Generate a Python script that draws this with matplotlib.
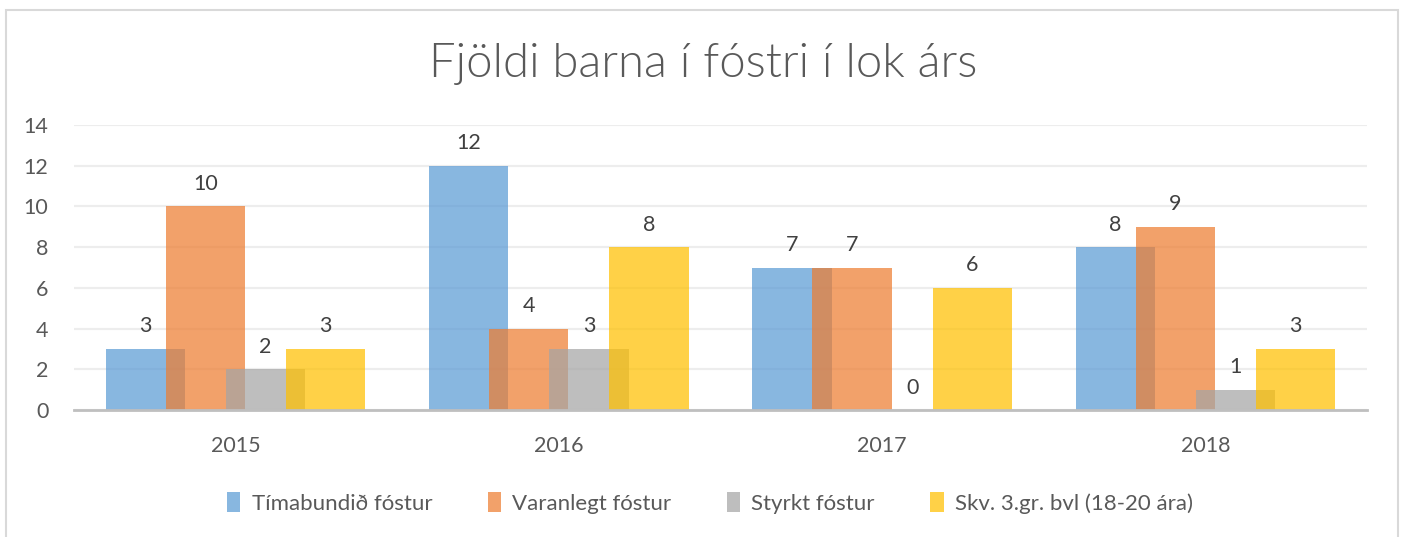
import numpy as np
import matplotlib.pyplot as plt
from matplotlib.patches import Rectangle

years = ["2015", "2016", "2017", "2018"]
series_names = ["Tímabundið fóstur", "Varanlegt fóstur", "Styrkt fóstur",
                "Skv. 3.gr. bvl (18-20 ára)"]
timabundid = [3, 12, 7, 8]
varanlegt = [10, 4, 7, 9]
styrkt = [2, 3, 0, 1]
skv = [3, 8, 6, 3]
series_values = [timabundid, varanlegt, styrkt, skv]
colors = ["#5B9BD5", "#ED7D31", "#A5A5A5", "#FFC000"]

plt.rcParams["font.family"] = ["Lato", "DejaVu Sans"]
text_color = "#595959"

fig = plt.figure(figsize=(14.03, 5.37), dpi=100)
ax = fig.add_axes([74 / 1403, 1 - 410 / 537, (1367 - 74) / 1403, 285 / 537])

x = np.arange(len(years))
width = 0.245
step = 0.186
for i, (name, vals, c) in enumerate(zip(series_names, series_values, colors)):
    pos = x + (i - 1.5) * step
    bars = ax.bar(pos, vals, width=width, color=c, alpha=0.72, label=name,
                  zorder=2 + i, linewidth=0)
    ax.bar_label(bars, labels=[str(v) for v in vals], padding=9,
                 fontsize=15.5, color="#404040")

ax.set_xlim(-0.5, 3.5)
ax.set_ylim(0, 14)
ax.set_yticks(range(0, 15, 2))
ax.set_xticks(x)
ax.set_xticklabels(years)
ax.yaxis.grid(True, color="#EDEDED", linewidth=1.6, zorder=0)
ax.set_axisbelow(True)
for s in ["top", "right", "left"]:
    ax.spines[s].set_visible(False)
ax.spines["bottom"].set_color("#BFBFBF")
ax.spines["bottom"].set_linewidth(2)
ax.spines["bottom"].set_zorder(10)
ax.tick_params(axis="both", length=0, labelsize=15.5, labelcolor=text_color)
ax.tick_params(axis="y", pad=18.5)
ax.tick_params(axis="x", pad=19)

fig.text(0.501, 1 - 64 / 537, "Fjöldi barna í fóstri í lok árs", ha="center",
         va="center", fontsize=34, fontweight=300, color=text_color)

fig.legend(loc="center", bbox_to_anchor=(0.506, 1 - 503 / 537), ncol=4,
           frameon=False, fontsize=16, labelcolor=text_color,
           handlelength=0.6, handleheight=1.0, handletextpad=0.5,
           columnspacing=2.5)

fig.patches.append(Rectangle((6 / 1403, -0.1), (1398 - 6) / 1403, 1.1 - 10 / 537,
                             transform=fig.transFigure, fill=False,
                             edgecolor="#D9D9D9", linewidth=1.5))

fig.savefig("out.png", dpi=100)
